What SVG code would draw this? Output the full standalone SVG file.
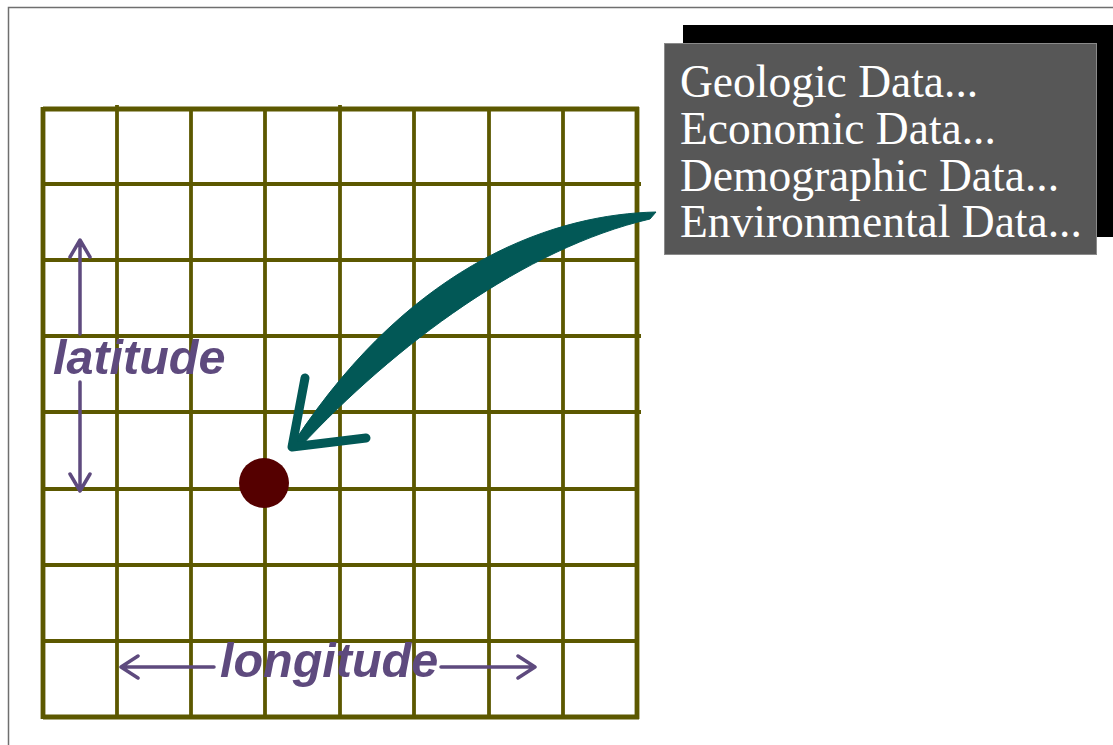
<svg xmlns="http://www.w3.org/2000/svg" width="1113" height="745" viewBox="0 0 1113 745">
<style>
.grid line{stroke:#5c5800;stroke-width:3.8;}
.grid .edge{stroke-width:4.8;}
.lbl{font-family:"Liberation Sans",Arial,sans-serif;font-weight:bold;font-style:italic;font-size:48.5px;fill:#5e4a7e;}
.data{font-family:"Liberation Serif","Times New Roman",serif;font-size:45.5px;fill:#ffffff;}
.dim{stroke:#5e4a7e;stroke-width:3.5;fill:none;stroke-linecap:round;stroke-linejoin:round;}
</style>
<rect x="0" y="0" width="1113" height="745" fill="#ffffff"/>
<path d="M8.5 745 V7.5 H1113" fill="none" stroke="#6f6f6f" stroke-width="1.5"/>
<g id="grid" class="grid">
<line class="edge" x1="43" y1="109" x2="639" y2="109"/>
<line x1="43" y1="184" x2="641" y2="184"/>
<line x1="43" y1="260" x2="637" y2="260"/>
<line x1="43" y1="336" x2="641" y2="336"/>
<line x1="43" y1="412" x2="641" y2="412"/>
<line x1="43" y1="489" x2="637" y2="489"/>
<line x1="43" y1="565" x2="637" y2="565"/>
<line x1="43" y1="641" x2="637" y2="641"/>
<line class="edge" x1="43" y1="717" x2="639" y2="717"/>
<line class="edge" x1="43" y1="107" x2="43" y2="719"/>
<line x1="117" y1="105" x2="117" y2="717"/>
<line x1="191" y1="109" x2="191" y2="717"/>
<line x1="265" y1="109" x2="265" y2="717"/>
<line x1="340" y1="105" x2="340" y2="717"/>
<line x1="414" y1="109" x2="414" y2="717"/>
<line x1="489" y1="109" x2="489" y2="717"/>
<line x1="563" y1="109" x2="563" y2="717"/>
<line class="edge" x1="637" y1="107" x2="637" y2="719"/>
</g>
<g id="data-box">
<rect x="683" y="25" width="430" height="212" fill="#000000"/>
<rect x="664.5" y="43.5" width="432" height="211" fill="#575757" stroke="#8a8a8a" stroke-width="1"/>
<text class="data" x="680" y="97">Geologic Data...</text>
<text class="data" x="680" y="144">Economic Data...</text>
<text class="data" x="680" y="191">Demographic Data...</text>
<text class="data" x="680" y="237">Environmental Data...</text>
</g>
<g id="location">
<circle cx="264" cy="483" r="25" fill="#550000"/>
</g>
<g id="latitude-label">
<text class="lbl" x="53" y="374">latitude</text>
</g>
<g id="longitude-label">
<text class="lbl" x="220" y="677">longitude</text>
</g>
<g id="connectors">
<g id="data-arrow" fill="#025856" stroke="#025856">
<path d="M656 212 C560 214 415 258 294 442 L300 447 C395 345 525 248 650 219 Z" stroke-width="1"/>
<path d="M305 378 L292 447 L366 438" fill="none" stroke-width="9" stroke-linecap="round" stroke-linejoin="round"/>
</g>
<g id="latitude-arrow">
<path class="dim" d="M80 241 V334 M80 382 V490 M70 257 L80 240 L90 257 M70 474 L80 491 L90 474"/>
</g>
<g id="longitude-arrow">
<path class="dim" d="M122 667 H214 M441 667 H534 M138 656 L121 667 L138 678 M518 656 L535 667 L518 678"/>
</g>
</g>
</svg>
